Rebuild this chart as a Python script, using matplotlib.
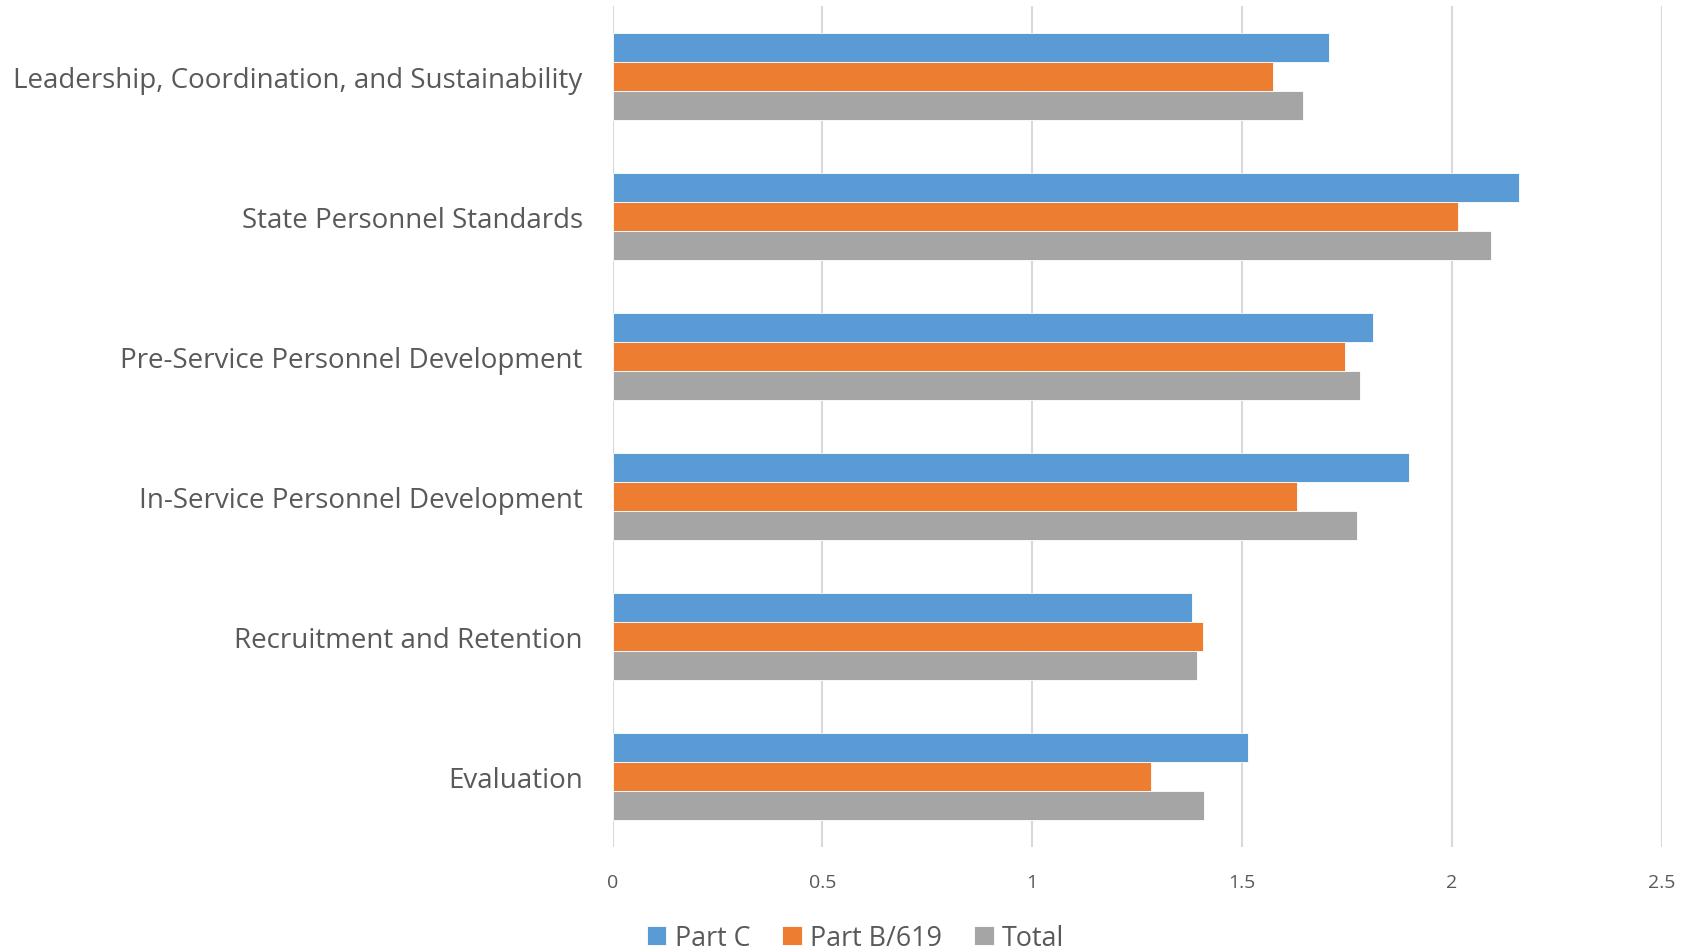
import matplotlib
matplotlib.use("Agg")
import matplotlib.pyplot as plt
import numpy as np

categories = [
    "Leadership, Coordination, and Sustainability",
    "State Personnel Standards",
    "Pre-Service Personnel Development",
    "In-Service Personnel Development",
    "Recruitment and Retention",
    "Evaluation",
]
part_c = [1.708, 2.161, 1.813, 1.897, 1.380, 1.515]
part_b619 = [1.573, 2.014, 1.746, 1.630, 1.407, 1.284]
total = [1.645, 2.093, 1.782, 1.773, 1.392, 1.409]

series_names = ["Part C", "Part B/619", "Total"]
series_values = [part_c, part_b619, total]
colors = ["#5B9BD5", "#ED7D31", "#A5A5A5"]
x_ticks = [0, 0.5, 1, 1.5, 2, 2.5]
x_tick_labels = ["0", "0.5", "1", "1.5", "2", "2.5"]

plt.rcParams["font.family"] = ["Open Sans", "DejaVu Sans"]
text_color = "#595959"

fig = plt.figure(figsize=(16.94, 9.53), dpi=100)
ax = fig.add_axes([0.3616, 0.1102, 0.6193, 0.8825])

n = len(categories)
y = np.arange(n)
bar_h = 0.207
for i, (name, vals, col) in enumerate(zip(series_names, series_values, colors)):
    offs = (i - 1) * bar_h
    ax.barh(y + offs, vals, height=bar_h, color=col, label=name,
            edgecolor="white", linewidth=0.6, zorder=3)

ax.set_ylim(n - 0.5, -0.5)
ax.set_xlim(0, 2.5)
ax.set_yticks(y)
ax.set_yticklabels(categories, fontsize=20, color=text_color)
ax.set_xticks(x_ticks)
ax.set_xticklabels(x_tick_labels, fontsize=14, color=text_color)
ax.tick_params(axis="y", length=0, pad=21.5)
ax.tick_params(axis="x", length=0, pad=19)
ax.grid(axis="x", color="#D9D9D9", linewidth=1.5, zorder=0)
for s in ax.spines.values():
    s.set_visible(False)

leg = fig.legend(loc="lower center", bbox_to_anchor=(0.505, -0.025), ncol=3,
                 frameon=False, fontsize=19.4, handlelength=0.72,
                 handleheight=0.72, handletextpad=0.3, columnspacing=1.2)
for t in leg.get_texts():
    t.set_color(text_color)

fig.savefig("out.png", dpi=100)
